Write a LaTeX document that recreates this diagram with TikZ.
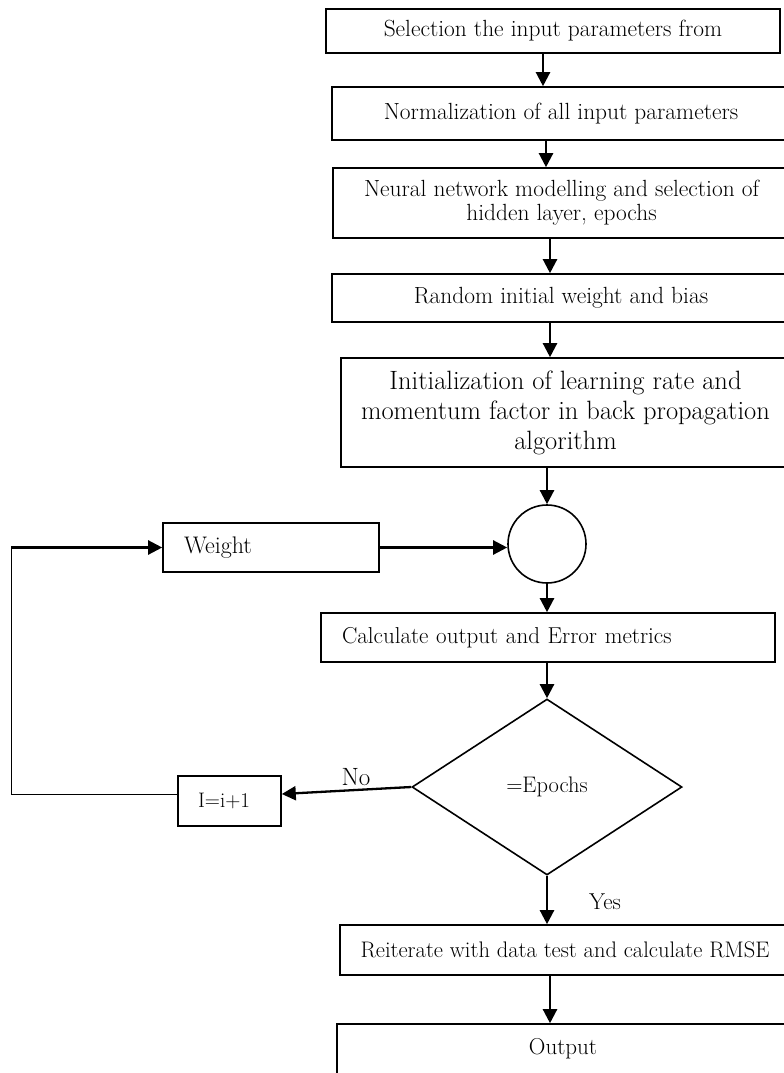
\documentclass[tikz,border=0pt]{standalone}
\usepackage{fontspec}
\setmainfont{Latin Modern Roman}
\usetikzlibrary{shapes.geometric,arrows.meta}
\begin{document}
\begin{tikzpicture}[x=1pt,y=-1pt,
  box/.style={draw, line width=1.6pt, rectangle, inner sep=0pt, align=center,
              font=\fontsize{23.4}{24}\selectfont},
  bigbox/.style={box, font=\fontsize{26.5}{30}\selectfont},
  leftbox/.style={box, align=left},
  arr/.style={line width=2.3pt, -{Triangle[length=14pt,width=14pt]}},
  thin/.style={line width=1pt},
  lbl/.style={inner sep=0pt, font=\fontsize{23}{24}\selectfont}]
\useasboundingbox (0,0) rectangle (784,1073);

% main column
\node[box, minimum width=454, minimum height=44] (b1) at (553,31)
  {Selection the input parameters from};
\node[box, minimum width=458, minimum height=53] (b2) at (561,113.5)
  {Normalization of all input parameters};
\node[box, minimum width=457, minimum height=70] (b3) at (561.5,203)
  {Neural network modelling and selection of\\hidden layer, epochs};
\node[box, minimum width=458, minimum height=48] (b4) at (561,298)
  {Random initial weight and bias};
\node[bigbox, minimum width=449, minimum height=109] (b5) at (565.5,412.5)
  {Initialization of learning rate and\\momentum factor in back propagation\\algorithm};

% summing junction and loop
\node[draw, circle, line width=1.6pt, minimum size=78, inner sep=0pt] (sum) at (547,544) {};
\node[leftbox, minimum width=216, minimum height=49, text width=174,
      font=\fontsize{24}{24}\selectfont] (w) at (271,547.5) {Weight};
\node[leftbox, minimum width=454, minimum height=49, text width=412,
      font=\fontsize{23}{24}\selectfont] (calc) at (548,637.5)
  {Calculate output and Error metrics};
\node[draw, diamond, line width=1.6pt, minimum width=270, minimum height=176, inner sep=0pt,
      font=\fontsize{22.5}{24}\selectfont] (dec) at (547,787) {=Epochs};
\node[leftbox, minimum width=103, minimum height=50, text width=63,
      font=\fontsize{21}{24}\selectfont] (inc) at (229.5,801) {I=i+1};

% result column
\node[box, minimum width=450, minimum height=50, font=\fontsize{22.5}{24}\selectfont] (rei) at (565,950)
  {Reiterate with data test and calculate RMSE};
\node[box, minimum width=453, minimum height=76] (out) at (563.5,1062) {};
\node[lbl] (outtxt) at (563,1049) {Output};

% labels
\node[lbl, font=\fontsize{25}{24}\selectfont] (no) at (356,777) {No};
\node[lbl] (yes) at (605,902) {Yes};

% arrow columns
\coordinate (x1) at (543,0);
\coordinate (x2) at (546,0);
\coordinate (x3) at (550,0);
\coordinate (x4) at (550,0);
\coordinate (x5) at (550,0);
\coordinate (corner) at (11,794);
\coordinate (cornertop) at (11,547.5);

\draw[arr] (b1.south -| x1) -- (b2.north -| x1);
\draw[arr] (b2.south -| x2) -- (b3.north -| x2);
\draw[arr] (b3.south -| x3) -- (b4.north -| x3);
\draw[arr] (b4.south -| x4) -- (b5.north -| x4);
\draw[arr] (b5.south -| sum.north) -- (sum.north);
\draw[arr] (w.east) -- (sum.west |- w.east);
\draw[arr] (sum.south) -- (calc.north -| sum.south);
\draw[arr] (calc.south -| dec.north) -- (dec.north);
\draw[arr] (dec.west) -- ([yshift=7pt]inc.east);
\draw[arr] (dec.south) -- (rei.north -| dec.south);
\draw[arr] (rei.south -| x5) -- (out.north -| x5);

% feedback path
\draw[thin] ([yshift=7pt]inc.west) -- (corner) -- (cornertop);
\draw[arr] (cornertop) -- (w.west);
\end{tikzpicture}
\end{document}
